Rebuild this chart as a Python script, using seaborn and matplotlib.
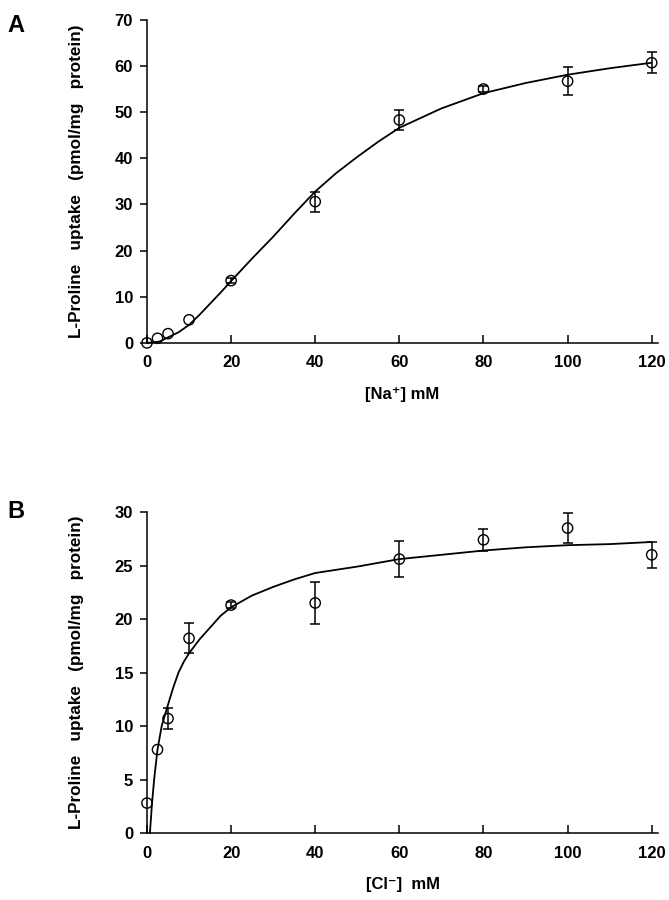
import matplotlib
matplotlib.use("Agg")
import matplotlib.pyplot as plt
import seaborn as sns
import pandas as pd
import numpy as np

# ---- Panel A data (Na+ dependence) ----
na_x = [0, 2.5, 5, 10, 20, 40, 60, 80, 100, 120]
na_y = [0.0, 1.0, 2.0, 5.0, 13.5, 30.6, 48.3, 55.0, 56.7, 60.7]
na_err = [0.0, 0.0, 0.0, 0.0, 0.5, 2.2, 2.2, 0.6, 3.0, 2.3]
na_fit_x = [0, 3, 5, 7.5, 10, 12.5, 15, 17.5, 20, 25, 30, 35, 40, 45, 50, 55, 60, 70, 80, 90, 100, 110, 120]
na_fit_y = [0, 0.3, 1.2, 2.3, 3.9, 6.1, 8.5, 10.9, 13.4, 18.3, 23.0, 28.0, 32.8, 36.8, 40.3, 43.6, 46.6, 50.8, 54.1, 56.3, 58.1, 59.5, 60.7]

# ---- Panel B data (Cl- dependence) ----
cl_x = [0, 2.5, 5, 10, 20, 40, 60, 80, 100, 120]
cl_y = [2.8, 7.8, 10.7, 18.2, 21.3, 21.5, 25.6, 27.4, 28.5, 26.0]
cl_err = [0.0, 0.0, 1.0, 1.4, 0.3, 1.95, 1.7, 1.0, 1.4, 1.2]
cl_fit_x = [0.7, 1.2, 1.7, 2.5, 3.5, 5, 6.25, 7.5, 8.75, 10, 12.5, 15, 17.5, 20, 25, 30, 35, 40, 50, 60, 70, 80, 90, 100, 110, 120]
cl_fit_y = [0, 2.8, 5.0, 7.8, 10.0, 12.0, 13.6, 15.0, 16.0, 16.8, 18.1, 19.2, 20.3, 21.1, 22.2, 23.0, 23.7, 24.3, 24.9, 25.6, 26.0, 26.4, 26.7, 26.9, 27.0, 27.2]

x_ticks = [0, 20, 40, 60, 80, 100, 120]
ylabel = "L-Proline   uptake   (pmol/mg   protein)"

sns.set_style("ticks")
plt.rcParams["font.family"] = ["Liberation Sans", "DejaVu Sans"]
plt.rcParams["font.weight"] = "bold"
for k in ("text.color", "axes.labelcolor", "xtick.color", "ytick.color", "axes.edgecolor"):
    plt.rcParams[k] = "black"

fig = plt.figure(figsize=(6.69, 9.0), dpi=100)
axA = fig.add_axes([0.2197, 0.619, 0.7639, 0.359])
axB = fig.add_axes([0.2197, 0.0744, 0.7639, 0.3567])


def draw(ax, x, y, err, fx, fy, ymax, ystep, xlabel):
    fit = pd.DataFrame({"x": fx, "y": fy})
    sns.lineplot(data=fit, x="x", y="y", ax=ax, color="black", linewidth=1.3, sort=False)
    e = np.array(err)
    ax.errorbar(x, y, yerr=np.where(e > 0, e, np.nan), fmt="none", ecolor="black",
                elinewidth=1.1, capsize=3.5, capthick=1.1, zorder=3)
    sns.scatterplot(x=x, y=y, ax=ax, marker="o", s=55, facecolor="none",
                    edgecolor="black", linewidth=1.0, zorder=4)
    ax.set_xlim(0, 121.5)
    ax.set_ylim(0, ymax)
    ax.set_xticks(x_ticks)
    ax.set_yticks(np.arange(0, ymax + 0.1, ystep))
    ax.spines["top"].set_visible(False)
    ax.spines["right"].set_visible(False)
    for s in ("left", "bottom"):
        ax.spines[s].set_linewidth(1.1)
    ax.tick_params(axis="x", direction="in", length=6, width=1.1, pad=9, labelsize=12)
    ax.tick_params(axis="y", direction="out", length=5, width=1.1, pad=5, labelsize=12)
    for lab in ax.get_xticklabels() + ax.get_yticklabels():
        lab.set_fontweight("bold")
    ax.set_xlabel(xlabel, fontsize=12, fontweight="bold", labelpad=12)
    ax.set_ylabel(ylabel, fontsize=12.3, fontweight="bold", labelpad=22)
    for c in ax.collections:
        c.set_clip_on(False)
    for l in ax.lines:
        l.set_clip_on(False)


draw(axA, na_x, na_y, na_err, na_fit_x, na_fit_y, 70, 10, "[Na\u207a] mM")
draw(axB, cl_x, cl_y, cl_err, cl_fit_x, cl_fit_y, 30, 5, "[Cl\u207b]  mM")

fig.text(0.011, 0.972, "A", fontsize=17, fontweight="bold", va="center")
fig.text(0.011, 0.432, "B", fontsize=17, fontweight="bold", va="center")

fig.savefig("out.png", dpi=100)
